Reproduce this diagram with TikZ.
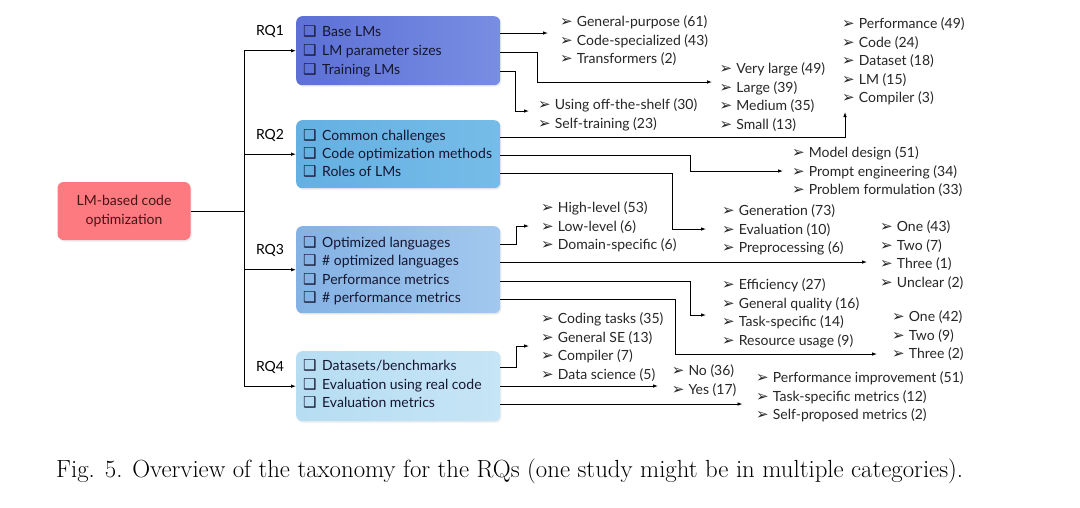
\documentclass[tikz,border=0pt]{standalone}
\usepackage{fontspec}
\newfontfamily\diafont{Lato}
\newfontfamily\symfont{DejaVu Sans}
\usepackage{tikz}
\usetikzlibrary{arrows.meta,positioning,shadows}
\usepackage{xcolor}

\definecolor{rootred}{RGB}{252,122,128}
\definecolor{rootink}{RGB}{70,20,22}
\definecolor{boxink}{RGB}{22,22,48}
\definecolor{rqAl}{RGB}{92,112,214}
\definecolor{rqAr}{RGB}{120,142,226}
\definecolor{rqBl}{RGB}{100,176,226}
\definecolor{rqBr}{RGB}{118,188,232}
\definecolor{rqCl}{RGB}{132,178,228}
\definecolor{rqCr}{RGB}{162,200,238}
\definecolor{rqDl}{RGB}{182,221,242}
\definecolor{rqDr}{RGB}{198,229,246}

\newcommand{\qbox}{\makebox[19pt][l]{\symfont\fontsize{15}{15}\selectfont ❑}}
\newcommand{\qarr}{\strut\makebox[16.7pt][l]{\symfont\fontsize{15}{15}\selectfont ➢}}

\begin{document}
\begin{tikzpicture}[
    x=1pt, y=-1pt,
    >={Latex[length=5pt,width=3.6pt]},
    vec/.style={->, line width=0.9pt},
    link/.style={line width=0.9pt},
    rootbox/.style={rounded corners=6pt, fill=rootred, text=rootink,
                    minimum width=133pt, minimum height=58pt, align=center,
                    font=\diafont\fontsize{14}{18.5}\selectfont,
                    drop shadow={opacity=0.15, shadow xshift=1.2pt, shadow yshift=-1.5pt}},
    rqbox/.style={rounded corners=6pt, anchor=north west, minimum width=204pt,
                  drop shadow={opacity=0.15, shadow xshift=1.2pt, shadow yshift=-1.5pt}},
    item/.style={anchor=west, inner sep=0pt, text=boxink, text height=10pt, text depth=3pt,
                 font=\diafont\fontsize{14}{17}\selectfont},
    leaf/.style={anchor=north west, inner sep=0pt, align=left, text=black!85,
                 font=\diafont\fontsize{14}{18.5}\selectfont},
    rqlabel/.style={font=\diafont\fontsize{14}{14}\selectfont}
  ]
  \useasboundingbox[fill=white] (0,0) rectangle (1080,507);

  %% Root and the four RQ boxes
  \node (root) [rootbox] at (124,211) {LM-based code\\optimization};

  \node (rq1) [rqbox, minimum height=69pt, left color=rqAl, right color=rqAr] at (296,16) {};
  \node (rq1a) [item] at (303,33)  {\qbox Base LMs};
  \node (rq1b) [item] at (303,52)  {\qbox LM parameter sizes};
  \node (rq1c) [item] at (303,71)  {\qbox Training LMs};

  \node (rq2) [rqbox, minimum height=68pt, left color=rqBl, right color=rqBr] at (296,120) {};
  \node (rq2a) [item] at (303,137) {\qbox Common challenges};
  \node (rq2b) [item] at (303,155) {\qbox Code optimization methods};
  \node (rq2c) [item] at (303,173) {\qbox Roles of LMs};

  \node (rq3) [rqbox, minimum height=87pt, left color=rqCl, right color=rqCr] at (296,226) {};
  \node (rq3a) [item] at (303,244) {\qbox Optimized languages};
  \node (rq3b) [item] at (303,262) {\qbox \# optimized languages};
  \node (rq3c) [item] at (303,281) {\qbox Performance metrics};
  \node (rq3d) [item] at (303,299) {\qbox \# performance metrics};

  \node (rq4) [rqbox, minimum height=70pt, left color=rqDl, right color=rqDr] at (296,351) {};
  \node (rq4a) [item] at (303,367) {\qbox Datasets/benchmarks};
  \node (rq4b) [item] at (303,386) {\qbox Evaluation using real code};
  \node (rq4c) [item] at (303,404) {\qbox Evaluation metrics};

  %% Fork from the root
  \coordinate (fork) at (244,211);
  \draw[link] (root.east) -- (fork);
  \draw[link] (fork |- rq1.west) -- (fork |- rq4.west);
  \draw[vec] (fork |- rq1.west) -- node[rqlabel, above=9pt]{RQ1} (rq1.west);
  \draw[vec] (fork |- rq2.west) -- node[rqlabel, above=9pt]{RQ2} (rq2.west);
  \draw[vec] (fork |- rq3.west) -- node[rqlabel, above=9pt]{RQ3} (rq3.west);
  \draw[vec] (fork |- rq4.west) -- node[rqlabel, above=9pt]{RQ4} (rq4.west);

  %% RQ1 categories
  \node (base)  [leaf] at (560,13.7)  {\qarr General-purpose (61)\\\qarr Code-specialized (43)\\\qarr Transformers (2)};
  \node (sizes) [leaf] at (719.5,60.7) {\qarr Very large (49)\\\qarr Large (39)\\\qarr Medium (35)\\\qarr Small (13)};
  \node (train) [leaf] at (538,96.7)  {\qarr Using off-the-shelf (30)\\\qarr Self-training (23)};
  \coordinate (sizes-in) at ([xshift=-7.5pt,yshift=-21.3pt]sizes.north west);
  \coordinate (train-in) at ([xshift=-9pt,yshift=-14.3pt]train.north west);
  \draw[vec] (rq1.east |- rq1a) -- ([xshift=-12pt]rq1a -| base.west);
  \draw[vec] (rq1.east |- rq1b) -- ++(37,0) |- (sizes-in);
  \draw[vec] (rq1.east |- rq1c) -- ++(15,0) |- (train-in);

  %% RQ2 categories
  \node (chal)  [leaf] at (842,15.7)  {\qarr Performance (49)\\\qarr Code (24)\\\qarr Dataset (18)\\\qarr LM (15)\\\qarr Compiler (3)};
  \node (meth)  [leaf] at (792,144.7) {\qarr Model design (51)\\\qarr Prompt engineering (34)\\\qarr Problem formulation (33)};
  \node (roles) [leaf] at (722,202.7) {\qarr Generation (73)\\\qarr Evaluation (10)\\\qarr Preprocessing (6)};
  \coordinate (chal-in)  at ([xshift=3pt,yshift=-96.3pt]chal.north west);
  \coordinate (meth-in)  at ([xshift=-9pt,yshift=-26.3pt]meth.north west);
  \coordinate (roles-in) at ([xshift=-16pt,yshift=-26.3pt]roles.north west);
  \draw[vec] (rq2.east |- rq2a) -| (chal-in);
  \draw[vec] (rq2.east |- rq2b) -- ++(190,0) |- (meth-in);
  \draw[vec] (rq2.east |- rq2c) -- ++(171.6,0) |- (roles-in);

  %% RQ3 categories
  \node (lang)  [leaf] at (541,199.7) {\qarr High-level (53)\\\qarr Low-level (6)\\\qarr Domain-specific (6)};
  \node (nlang) [leaf] at (880,218.7) {\qarr One (43)\\\qarr Two (7)\\\qarr Three (1)\\\qarr Unclear (2)};
  \node (perf)  [leaf] at (722,276.7) {\qarr Efficiency (27)\\\qarr General quality (16)\\\qarr Task-specific (14)\\\qarr Resource usage (9)};
  \node (nperf) [leaf] at (892,308.7) {\qarr One (42)\\\qarr Two (9)\\\qarr Three (2)};
  \coordinate (lang-in)  at ([xshift=-12pt,yshift=-26.3pt]lang.north west);
  \coordinate (perf-in)  at ([xshift=-16pt,yshift=-38.3pt]perf.north west);
  \coordinate (nperf-in) at ([xshift=-15pt,yshift=-45.3pt]nperf.north west);
  \draw[vec] (rq3.east |- rq3a) -- ++(16,0) |- (lang-in);
  \draw[vec] (rq3.east |- rq3b) -- ([xshift=-13pt]rq3b -| nlang.west);
  \draw[vec] (rq3.east |- rq3c) -- ++(190,0) |- (perf-in);
  \draw[vec] (rq3.east |- rq3d) -- ++(175,0) |- (nperf-in);

  %% RQ4 categories
  \node (data)  [leaf] at (541,310.7) {\qarr Coding tasks (35)\\\qarr General SE (13)\\\qarr Compiler (7)\\\qarr Data science (5)};
  \node (real)  [leaf] at (671.6,362.7) {\qarr No (36)\\\qarr Yes (17)};
  \node (evalm) [leaf] at (756,369.7) {\qarr Performance improvement (51)\\\qarr Task-specific metrics (12)\\\qarr Self-proposed metrics (2)};
  \coordinate (data-in) at ([xshift=-12pt,yshift=-35.3pt]data.north west);
  \draw[vec] (rq4.east |- rq4a) -- ++(16,0) |- (data-in);
  \draw[vec] (rq4.east |- rq4b) -- ([xshift=-13.6pt]rq4b -| real.west);
  \draw[vec] (rq4.east |- rq4c) -- ([xshift=-13.5pt]rq4c -| evalm.west);

  %% Caption
  \node (cap) [anchor=base west, inner sep=0pt, font=\fontsize{24.8}{29}\selectfont]
    at (56,477.7) {Fig. 5.\hspace{0.4em}Overview of the taxonomy for the RQs (one study might be in multiple categories).};

\end{tikzpicture}
\end{document}
